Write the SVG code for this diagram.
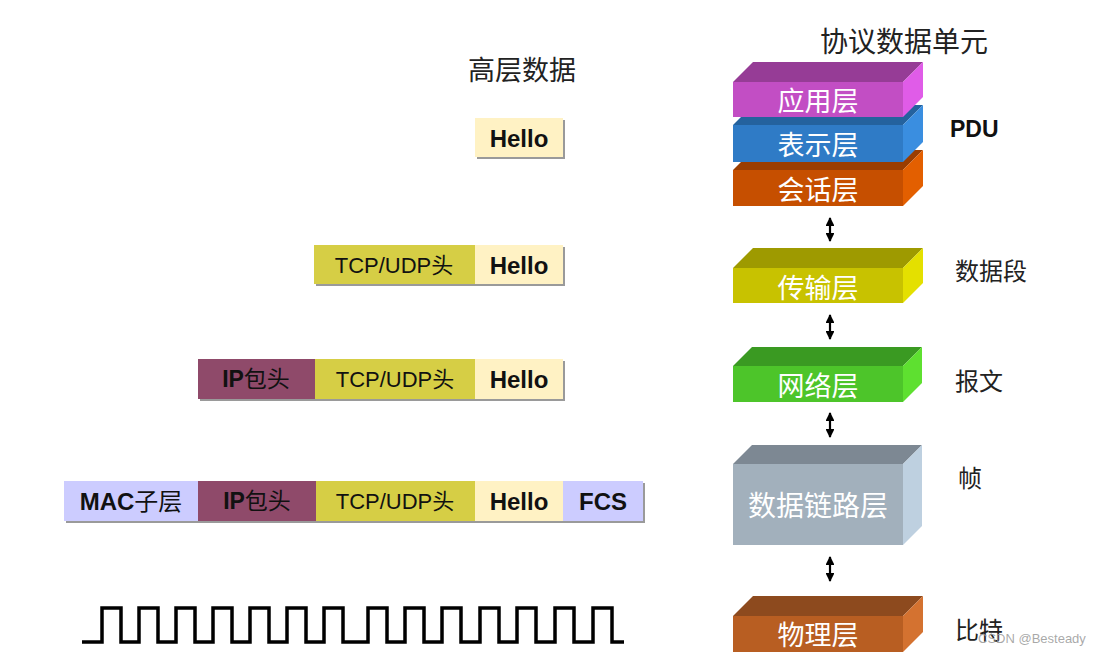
<svg xmlns="http://www.w3.org/2000/svg" width="1101" height="656" viewBox="0 0 1101 656">
  <defs>
    <style>
      .cjk { font-family: "Noto Sans CJK SC", "Liberation Sans", sans-serif; }
      .title { font-size: 27px; fill: #222; }
      .side { font-size: 24px; fill: #222; }
      .layer { font-size: 27px; fill: #ffffff; text-anchor: middle; dominant-baseline: central; }
      .cell { font-family: "Liberation Sans", "Noto Sans CJK SC", sans-serif; font-size: 22px; fill: #111; text-anchor: middle; dominant-baseline: central; }
      .big { font-size: 24px; }
      .b { font-weight: bold; }
      .shadow { fill: #9a9a9a; }
      .hello { fill: #FFF2C4; }
      .tcp { fill: #D6CE45; }
      .ip { fill: #8F4A6A; }
      .mac { fill: #CCCCFF; }
      .arrow { stroke: #000; stroke-width: 2.2; fill: none; marker-start: url(#head); marker-end: url(#head); }
      .wave { stroke: #000; stroke-width: 3.5; fill: none; }
    </style>
    <marker id="head" viewBox="0 0 10 10" refX="9" refY="5" markerWidth="4" markerHeight="4" orient="auto-start-reverse" markerUnits="strokeWidth">
      <path d="M0,0 L10,5 L0,10 Z" fill="#000"/>
    </marker>
  </defs>

  <rect width="1101" height="656" fill="#ffffff"/>

  <!-- column headings -->
  <text class="cjk title" x="468" y="80">高层数据</text>
  <text class="cjk title" x="820" y="52" style="font-size:28px">协议数据单元</text>

  <!-- OSI layer blocks (drawn bottom-up so upper blocks overlap) -->
  <g id="session">
    <polygon points="733,170 753,150 923,150 903,170" fill="#9A3D00"/>
    <polygon points="903,170 923,150 923,186 903,206" fill="#E35F00"/>
    <rect x="733" y="170" width="170" height="36" fill="#C64F00"/>
    <text class="cjk layer" x="818" y="188">会话层</text>
  </g>
  <g id="presentation">
    <polygon points="733,125 753,105 923,105 903,125" fill="#24629E"/>
    <polygon points="903,125 923,105 923,142 903,162" fill="#3A8EE0"/>
    <rect x="733" y="125" width="170" height="37" fill="#2F7BC6"/>
    <text class="cjk layer" x="818" y="143">表示层</text>
  </g>
  <g id="application">
    <polygon points="733,82 753,62 923,62 903,82" fill="#963C96"/>
    <polygon points="903,82 923,62 923,97 903,117" fill="#E05CE8"/>
    <rect x="733" y="82" width="170" height="35" fill="#C24EC4"/>
    <text class="cjk layer" x="818" y="99">应用层</text>
  </g>
  <g id="transport">
    <polygon points="733,268 753,248 923,248 903,268" fill="#9E9A00"/>
    <polygon points="903,268 923,248 923,283 903,303" fill="#E4E000"/>
    <rect x="733" y="268" width="170" height="35" fill="#C8C200"/>
    <text class="cjk layer" x="818" y="286">传输层</text>
  </g>
  <g id="network">
    <polygon points="733,366 752,347 922,347 903,366" fill="#3A9A22"/>
    <polygon points="903,366 922,347 922,383 903,402" fill="#5EE030"/>
    <rect x="733" y="366" width="170" height="36" fill="#4DC52A"/>
    <text class="cjk layer" x="818" y="384">网络层</text>
  </g>
  <g id="datalink">
    <polygon points="733,464 752,445 922,445 903,464" fill="#7D8893"/>
    <polygon points="903,464 922,445 922,526 903,545" fill="#BED0E0"/>
    <rect x="733" y="464" width="170" height="81" fill="#A2B0BC"/>
    <text class="cjk layer" x="818" y="504" style="font-size:28px">数据链路层</text>
  </g>
  <g id="physical">
    <polygon points="733,616 753,596 923,596 903,616" fill="#8D4A1E"/>
    <polygon points="903,616 923,596 923,632 903,652" fill="#D47230"/>
    <rect x="733" y="616" width="170" height="36" fill="#B85E22"/>
    <text class="cjk layer" x="818" y="633">物理层</text>
  </g>

  <!-- connectors between layers -->
  <g id="connectors">
    <line class="arrow" x1="830" y1="218" x2="830" y2="241"/>
    <line class="arrow" x1="830" y1="315" x2="830" y2="339"/>
    <line class="arrow" x1="830" y1="413" x2="830" y2="437"/>
    <line class="arrow" x1="830" y1="557" x2="830" y2="581"/>
  </g>

  <!-- unit names -->
  <text x="950" y="137" style="font-family:'Liberation Sans',sans-serif;font-weight:bold;font-size:23px;fill:#111">PDU</text>
  <text class="cjk side" x="955" y="280">数据段</text>
  <text class="cjk side" x="955" y="390">报文</text>
  <text class="cjk side" x="958" y="487">帧</text>
  <text class="cjk side" x="955" y="639">比特</text>

  <!-- row 1: application data -->
  <g id="row1">
    <rect class="shadow" x="477" y="120" width="88" height="39"/>
    <rect class="hello" x="475" y="118" width="88" height="39"/>
    <text class="cell b big" x="519" y="138">Hello</text>
  </g>

  <!-- row 2: segment -->
  <g id="row2">
    <rect class="shadow" x="316" y="247" width="249" height="39"/>
    <rect class="tcp" x="314" y="245" width="161" height="39"/>
    <rect class="hello" x="475" y="245" width="88" height="39"/>
    <text class="cell" x="394" y="265">TCP/UDP头</text>
    <text class="cell b big" x="519" y="265">Hello</text>
  </g>

  <!-- row 3: packet -->
  <g id="row3">
    <rect class="shadow" x="200" y="361" width="365" height="40"/>
    <rect class="ip" x="198" y="359" width="117" height="40"/>
    <rect class="tcp" x="315" y="359" width="160" height="40"/>
    <rect class="hello" x="475" y="359" width="88" height="40"/>
    <text class="cell" x="256" y="379" style="font-size:23px"><tspan class="b">IP</tspan>包头</text>
    <text class="cell" x="395" y="379">TCP/UDP头</text>
    <text class="cell b big" x="519" y="379">Hello</text>
  </g>

  <!-- row 4: frame -->
  <g id="row4">
    <rect class="shadow" x="66" y="483" width="579" height="40"/>
    <rect class="mac" x="64" y="481" width="134" height="40"/>
    <rect class="ip" x="198" y="481" width="118" height="40"/>
    <rect class="tcp" x="316" y="481" width="159" height="40"/>
    <rect class="hello" x="475" y="481" width="88" height="40"/>
    <rect class="mac" x="563" y="481" width="80" height="40"/>
    <text class="cell big" x="131" y="501"><tspan class="b">MAC</tspan>子层</text>
    <text class="cell" x="257" y="501" style="font-size:23px"><tspan class="b">IP</tspan>包头</text>
    <text class="cell" x="395" y="501">TCP/UDP头</text>
    <text class="cell b big" x="519" y="501">Hello</text>
    <text class="cell b big" x="603" y="501">FCS</text>
  </g>

  <!-- bit stream -->
  <g id="bits">
    <path class="wave" d="M82,642 H102 V608 H121 V642 H139 V608 H158 V642 H176 V608 H195 V642 H213 V608 H232 V642 H250 V608 H269 V642 H287 V608 H306 V642 H324 V608 H343 V642 H368 V608 H387 V642 H405 V608 H424 V642 H442 V608 H461 V642 H480 V608 H499 V642 H517 V608 H536 V642 H555 V608 H574 V642 H593 V608 H612 V642 H624"/>
  </g>

  <text x="978" y="643" style="font-family:'Liberation Sans',sans-serif;font-size:13px;fill:#999;fill-opacity:0.85">CSDN @Besteady</text>
</svg>
